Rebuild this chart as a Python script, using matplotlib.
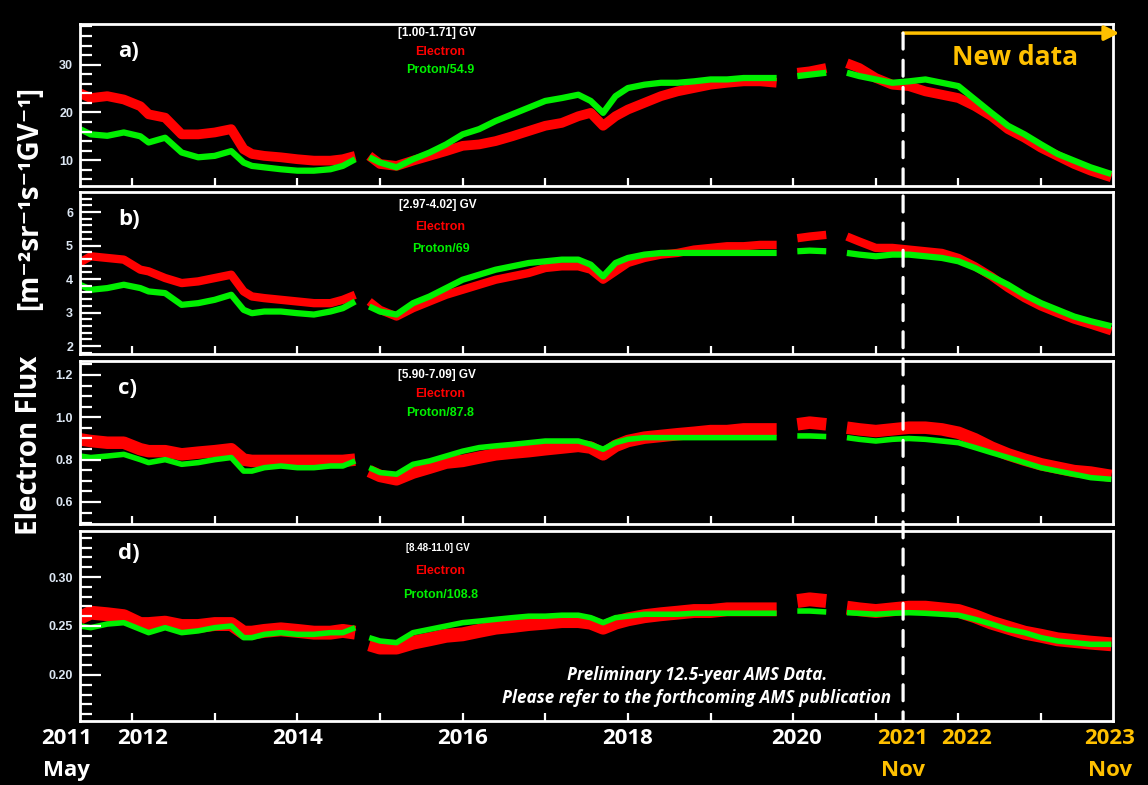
import numpy as np
import matplotlib
matplotlib.use("Agg")
import matplotlib.pyplot as plt
from matplotlib.ticker import MultipleLocator, FormatStrFormatter, NullFormatter
from matplotlib.patches import ConnectionPatch
from matplotlib.transforms import blended_transform_factory

# decimal year of each reading
years = [2011.37, 2011.5, 2011.7, 2011.9,
         2012.1, 2012.2, 2012.4, 2012.6, 2012.8,
         2013.0, 2013.2, 2013.35, 2013.45, 2013.6, 2013.8,
         2014.0, 2014.2, 2014.4, 2014.55, 2014.7, 2014.87,
         2015.0, 2015.2, 2015.4, 2015.6, 2015.8,
         2016.0, 2016.2, 2016.4, 2016.6, 2016.8,
         2017.0, 2017.2, 2017.4, 2017.55, 2017.7, 2017.85,
         2018.0, 2018.2, 2018.4, 2018.6, 2018.8,
         2019.0, 2019.2, 2019.4, 2019.6, 2019.8,
         2020.05, 2020.2, 2020.4, 2020.65, 2020.8,
         2021.0, 2021.2, 2021.4, 2021.6, 2021.8,
         2022.0, 2022.2, 2022.4, 2022.6, 2022.8,
         2023.0, 2023.2, 2023.4, 2023.6, 2023.85]

# periods without data
gap_years = [2014.78, 2019.92, 2020.52]

# panel a) [1.00-1.71] GV
electron_a = [24.0, 23.0, 23.4, 22.7,
              21.3, 19.6, 18.9, 15.4, 15.4,
              15.8, 16.5, 12.3, 11.3, 10.9, 10.6,
              10.2, 9.9, 9.9, 10.2, 10.9, 10.9,
              9.2, 8.8, 9.9, 10.9, 11.9,
              13.0, 13.3, 14.0, 15.0, 16.1,
              17.2, 17.8, 19.2, 19.9, 17.2, 19.2,
              20.6, 22.0, 23.4, 24.4, 25.1,
              25.8, 26.2, 26.5, 26.5, 26.2,
              28.3, 28.6, 29.3, 30.3, 29.3,
              27.2, 25.8, 25.5, 24.4, 23.7,
              23.0, 21.3, 19.2, 16.5, 14.7,
              12.6, 10.9, 9.2, 7.8, 6.4]
proton_a = [16.5, 15.4, 15.1, 15.8,
            15.0, 13.7, 14.7, 11.6, 10.6,
            10.9, 11.9, 9.5, 8.8, 8.5, 8.1,
            7.8, 7.8, 8.1, 8.8, 10.2, 10.6,
            9.5, 8.5, 10.2, 11.6, 13.3,
            15.4, 16.5, 18.2, 19.6, 21.0,
            22.4, 23.0, 23.7, 22.4, 19.9, 23.4,
            25.1, 25.8, 26.2, 26.2, 26.5,
            26.9, 26.9, 27.2, 27.2, 27.2,
            27.6, 27.9, 28.3, 28.3, 27.6,
            26.9, 26.2, 26.5, 26.9, 26.2,
            25.5, 22.7, 19.9, 17.2, 15.4,
            13.3, 11.3, 9.9, 8.5, 7.1]

# panel b) [2.97-4.02] GV
electron_b = [4.50, 4.68, 4.63, 4.58,
              4.28, 4.23, 4.03, 3.88, 3.93,
              4.03, 4.13, 3.63, 3.48, 3.43, 3.38,
              3.33, 3.28, 3.28, 3.38, 3.53, 3.33,
              3.08, 2.88, 3.13, 3.33, 3.53,
              3.68, 3.83, 3.98, 4.08, 4.18,
              4.33, 4.38, 4.38, 4.28, 3.98, 4.23,
              4.48, 4.63, 4.73, 4.78, 4.88,
              4.93, 4.98, 4.98, 5.02, 5.02,
              5.22, 5.27, 5.32, 5.27, 5.12,
              4.93, 4.93, 4.88, 4.83, 4.78,
              4.63, 4.38, 4.08, 3.73, 3.43,
              3.18, 2.98, 2.79, 2.64, 2.44]
proton_b = [3.83, 3.68, 3.73, 3.83,
            3.73, 3.63, 3.58, 3.23, 3.28,
            3.38, 3.53, 3.08, 2.98, 3.03, 3.03,
            2.98, 2.94, 3.03, 3.13, 3.33, 3.18,
            3.03, 2.94, 3.28, 3.48, 3.73,
            3.98, 4.13, 4.28, 4.38, 4.48,
            4.53, 4.58, 4.58, 4.43, 4.08, 4.48,
            4.63, 4.73, 4.78, 4.78, 4.78,
            4.78, 4.78, 4.78, 4.78, 4.78,
            4.83, 4.85, 4.83, 4.78, 4.73,
            4.68, 4.73, 4.73, 4.68, 4.63,
            4.53, 4.33, 4.08, 3.83, 3.53,
            3.28, 3.08, 2.88, 2.74, 2.59]

# panel c) [5.90-7.09] GV
electron_c = [0.896, 0.888, 0.880, 0.880,
              0.849, 0.840, 0.840, 0.825, 0.833,
              0.840, 0.849, 0.800, 0.794, 0.794, 0.794,
              0.794, 0.794, 0.794, 0.794, 0.800, 0.746,
              0.723, 0.707, 0.739, 0.762, 0.786,
              0.794, 0.810, 0.825, 0.833, 0.840,
              0.849, 0.857, 0.865, 0.857, 0.825, 0.865,
              0.888, 0.904, 0.912, 0.920, 0.927,
              0.935, 0.935, 0.943, 0.943, 0.943,
              0.967, 0.975, 0.967, 0.951, 0.943,
              0.935, 0.943, 0.951, 0.951, 0.943,
              0.927, 0.896, 0.857, 0.825, 0.800,
              0.778, 0.762, 0.746, 0.739, 0.723]
proton_c = [0.817, 0.810, 0.817, 0.825,
            0.800, 0.786, 0.800, 0.778, 0.786,
            0.800, 0.810, 0.746, 0.746, 0.762, 0.770,
            0.762, 0.762, 0.770, 0.770, 0.794, 0.762,
            0.739, 0.731, 0.778, 0.794, 0.817,
            0.840, 0.857, 0.865, 0.872, 0.880,
            0.888, 0.888, 0.888, 0.872, 0.849, 0.880,
            0.896, 0.904, 0.904, 0.904, 0.904,
            0.904, 0.904, 0.904, 0.904, 0.904,
            0.912, 0.912, 0.909, 0.904, 0.896,
            0.888, 0.896, 0.900, 0.896, 0.888,
            0.880, 0.857, 0.833, 0.810, 0.786,
            0.762, 0.746, 0.731, 0.715, 0.707]

# panel d) [8.48-11.0] GV
electron_d = [0.2585, 0.2636, 0.2620, 0.2600,
              0.2520, 0.2520, 0.2534, 0.2500, 0.2500,
              0.2520, 0.2520, 0.2432, 0.2432, 0.2450, 0.2466,
              0.2450, 0.2432, 0.2432, 0.2450, 0.2432, 0.2313,
              0.2280, 0.2280, 0.2330, 0.2364, 0.2400,
              0.2415, 0.2450, 0.2483, 0.2500, 0.2520,
              0.2534, 0.2550, 0.2550, 0.2534, 0.2483, 0.2534,
              0.2568, 0.2600, 0.2620, 0.2636, 0.2653,
              0.2653, 0.2670, 0.2670, 0.2670, 0.2670,
              0.2755, 0.2772, 0.2755, 0.2687, 0.2670,
              0.2653, 0.2670, 0.2687, 0.2687, 0.2670,
              0.2653, 0.2600, 0.2534, 0.2483, 0.2432,
              0.2400, 0.2364, 0.2347, 0.2330, 0.2313]
proton_d = [0.2500, 0.2483, 0.2520, 0.2534,
            0.2466, 0.2432, 0.2483, 0.2432, 0.2450,
            0.2483, 0.2500, 0.2381, 0.2381, 0.2415, 0.2432,
            0.2415, 0.2415, 0.2432, 0.2432, 0.2483, 0.2381,
            0.2347, 0.2330, 0.2432, 0.2466, 0.2500,
            0.2534, 0.2550, 0.2568, 0.2585, 0.2600,
            0.2600, 0.2610, 0.2610, 0.2585, 0.2534, 0.2585,
            0.2600, 0.2620, 0.2620, 0.2620, 0.2630,
            0.2630, 0.2630, 0.2630, 0.2630, 0.2630,
            0.2653, 0.2653, 0.2643, 0.2636, 0.2630,
            0.2620, 0.2630, 0.2636, 0.2630, 0.2620,
            0.2610, 0.2568, 0.2520, 0.2466, 0.2432,
            0.2381, 0.2347, 0.2330, 0.2313, 0.2313]

panel_letters = ["a)", "b)", "c)", "d)"]
rigidity_labels = ["[1.00-1.71] GV", "[2.97-4.02] GV", "[5.90-7.09] GV", "[8.48-11.0] GV"]
proton_labels = ["Proton/54.9", "Proton/69", "Proton/87.8", "Proton/108.8"]
electron_series = [electron_a, electron_b, electron_c, electron_d]
proton_series = [proton_a, proton_b, proton_c, proton_d]

y_limits = [(4.6, 38.5), (1.76, 6.6), (0.496, 1.266), (0.153, 0.347)]
y_majors = [[10, 20, 30], [2, 3, 4, 5, 6], [0.6, 0.8, 1.0, 1.2], [0.20, 0.25, 0.30]]
y_minor_steps = [2, 0.2, 0.05, 0.01]
y_formats = ["%d", "%d", "%.1f", "%.2f"]

x_start, x_end = 2011.37, 2023.87
new_data_start = 2021.33
year_ticks = list(range(2012, 2024))

# bottom labels: position, year, month
date_positions = [2011.21, 2012.13, 2014.0, 2016.0, 2018.0, 2020.04, 2021.33, 2022.1, 2023.83]
date_years = ["2011", "2012", "2014", "2016", "2018", "2020", "2021", "2022", "2023"]
date_months = ["May", "", "", "", "", "", "Nov", "", "Nov"]

RED = "#ff0000"
GREEN = "#00f000"
ORANGE = "#ffc000"
TICKCOL = "#dce6f2"

W_PX, H_PX = 1148, 785


def with_gaps(x, y):
    x = np.asarray(x, float)
    y = np.asarray(y, float)
    idx = np.searchsorted(x, gap_years)
    return np.insert(x, idx, gap_years), np.insert(y, idx, np.nan)


def draw_ticks(ax, minor_step):
    # inward white tick marks placed at the axis locator positions
    pos = ax.get_position()
    w_px, h_px = pos.width * W_PX, pos.height * H_PX
    ty = blended_transform_factory(ax.transAxes, ax.transData)
    tx = blended_transform_factory(ax.transData, ax.transAxes)
    lo, hi = ax.get_ylim()
    majors = [v for v in ax.get_yticks() if lo <= v <= hi]
    for v in majors:
        ax.plot([0, 21 / w_px], [v, v], transform=ty, color="white", lw=1.6,
                solid_capstyle="butt", clip_on=False, zorder=3)
    for v in np.arange(np.ceil(lo / minor_step) * minor_step, hi, minor_step):
        if min(abs(v - m) for m in majors) < minor_step / 10:
            continue
        ax.plot([0, 12 / w_px], [v, v], transform=ty, color="white", lw=1.6,
                solid_capstyle="butt", clip_on=False, zorder=3)
    for v in ax.get_xticks():
        ax.plot([v, v], [0, 8 / h_px], transform=tx, color="white", lw=1.6,
                solid_capstyle="butt", clip_on=False, zorder=3)


fig = plt.figure(figsize=(11.48, 7.85), dpi=100, facecolor="black")

rects = [
    [0.0697, 0.7631, 0.8998, 0.2063],
    [0.0697, 0.5490, 0.8998, 0.2064],
    [0.0697, 0.3325, 0.8998, 0.2076],
    [0.0697, 0.0815, 0.8998, 0.2421],
]
red_widths = [7, 6, 9, 10]
green_widths = [4.5, 4.5, 4, 4]
title_y = [(0.944, 0.827, 0.716), (0.92, 0.784, 0.648),
           (0.914, 0.798, 0.681), (0.91, 0.79, 0.663)]
letter_y = [0.83, 0.83, 0.83, 0.88]

axes = []
for i in range(4):
    ax = fig.add_axes(rects[i], facecolor="black")
    axes.append(ax)

    xe, ye = with_gaps(years, electron_series[i])
    xp, yp = with_gaps(years, proton_series[i])
    ax.plot(xe, ye, color=RED, lw=red_widths[i], solid_capstyle="butt", zorder=2)
    ax.plot(xp, yp, color=GREEN, lw=green_widths[i], solid_capstyle="butt", zorder=2)

    ax.set_xlim(x_start, x_end)
    ax.set_ylim(*y_limits[i])
    ax.set_xticks(year_ticks)
    ax.xaxis.set_major_formatter(NullFormatter())
    ax.set_yticks(y_majors[i])
    ax.yaxis.set_major_formatter(FormatStrFormatter(y_formats[i]))

    for sp in ax.spines.values():
        sp.set_color("white")
        sp.set_linewidth(2)
    ax.tick_params(axis="both", which="both", length=0)
    ax.tick_params(axis="y", labelcolor=TICKCOL, labelsize=9, pad=5)
    for lab in ax.get_yticklabels():
        lab.set_fontweight("bold")
        lab.set_family(["Liberation Sans", "DejaVu Sans"])
    draw_ticks(ax, y_minor_steps[i])

    ax.text(0.037, letter_y[i], panel_letters[i], transform=ax.transAxes,
            color="white", fontsize=16, fontweight="bold", family="Open Sans", va="center")
    ty = title_y[i]
    ax.text(0.346, ty[0], rigidity_labels[i], transform=ax.transAxes, color="white",
            fontsize=8.5 if i < 3 else 7, fontweight="bold", family="Liberation Sans",
            ha="center", va="center")
    ax.text(0.349, ty[1], "Electron", transform=ax.transAxes, color=RED,
            fontsize=9, fontweight="bold", family="Liberation Sans", ha="center", va="center")
    ax.text(0.349, ty[2], proton_labels[i], transform=ax.transAxes, color=GREEN,
            fontsize=9, fontweight="bold", family="Liberation Sans", ha="center", va="center")

ax_a, ax_d = axes[0], axes[3]

# dashed line marking the start of the new data
con = ConnectionPatch(
    xyA=(new_data_start, 0.944), coordsA=blended_transform_factory(ax_a.transData, ax_a.transAxes),
    xyB=(new_data_start, 0.0), coordsB=blended_transform_factory(ax_d.transData, ax_d.transAxes),
    color="white", lw=2.3, linestyle=(0, (5, 3.5)))
fig.add_artist(con)

ax_a.annotate("", xy=(1.006, 0.944), xycoords="axes fraction",
              xytext=(new_data_start, 0.944),
              textcoords=blended_transform_factory(ax_a.transData, ax_a.transAxes),
              arrowprops=dict(arrowstyle="-|>", color=ORANGE, lw=2.5, mutation_scale=22,
                              shrinkA=0, shrinkB=0),
              annotation_clip=False)
ax_a.text(0.905, 0.796, "New data", transform=ax_a.transAxes, color=ORANGE,
          fontsize=19, fontweight="bold", family="Open Sans", ha="center", va="center")

ax_d.text(0.597, 0.242, "Preliminary 12.5-year AMS Data.", transform=ax_d.transAxes,
          color="white", fontsize=12.3, fontweight="bold", style="italic",
          family="Open Sans", ha="center", va="center")
ax_d.text(0.597, 0.121, "Please refer to the forthcoming AMS publication", transform=ax_d.transAxes,
          color="white", fontsize=12.3, fontweight="bold", style="italic",
          family="Open Sans", ha="center", va="center")

# date labels under the last panel
bt = blended_transform_factory(ax_d.transData, fig.transFigure)
for pos, yr, mon in zip(date_positions, date_years, date_months):
    col = ORANGE if pos > 2021 else "white"
    ax_d.text(pos, 0.0586, yr, transform=bt, color=col, fontsize=16, fontweight="bold",
              family="Open Sans", ha="center", va="center", clip_on=False)
    if mon:
        ax_d.text(pos, 0.019, mon, transform=bt, color=col, fontsize=16, fontweight="bold",
                  family="Open Sans", ha="center", va="center", clip_on=False)

# y axis title
fig.text(0.026, 1 - 445 / 785, "Electron Flux", rotation=90, color="white", fontsize=20,
         fontweight="bold", family="Open Sans", ha="center", va="center")
fig.text(0.026, 1 - 198 / 785, "[m\u207b\u00b2sr\u207b\u00b9s\u207b\u00b9GV\u207b\u00b9]",
         rotation=90, color="white", fontsize=20, fontweight="bold",
         family=["Open Sans", "DejaVu Sans"], ha="center", va="center")

fig.savefig("out.png", dpi=100, facecolor="black")
